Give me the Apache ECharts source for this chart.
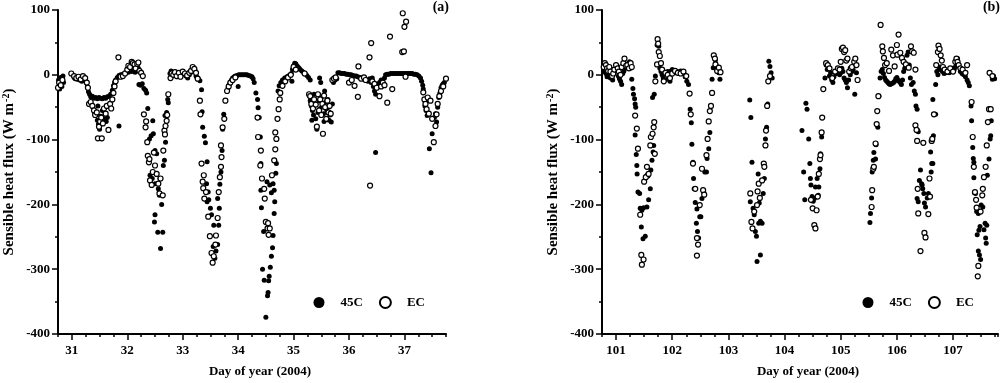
<!DOCTYPE html>
<html><head><meta charset="utf-8">
<script src="https://cdn.jsdelivr.net/npm/echarts@6/dist/echarts.min.js"></script>
<style>html,body{margin:0;padding:0;background:#fff}#c{width:1000px;height:383px}</style>
</head><body><div id="c"></div>
<script>
// ---- tick labels ----
const xTicksA = [31, 32, 33, 34, 35, 36, 37];
const xTicksB = [101, 102, 103, 104, 105, 106, 107];
const yTicks = [-400, -300, -200, -100, 0, 100];
const panelLabels = ['(a)', '(b)'];
const seriesNames = ['45C', 'EC'];

// ---- panel (a): [day, W m-2] ----
const a45C = [
[30.76,-8],[30.77,-15],[30.78,-22],[30.79,-10],[30.80,-4],[30.81,-12],[30.82,-18],[30.83,-6],[30.84,-2],[30.85,-12],
[31.04,-4],[31.06,-6],[31.08,-3],[31.10,-7],[31.12,-5],[31.14,-8],[31.16,-4],[31.18,-10],[31.20,-6],[31.22,-3],[31.24,-8],[31.26,-12],[31.28,-18],[31.30,-26],[31.32,-30],
[31.34,-34],[31.37,-33],[31.40,-36],[31.43,-35],[31.46,-37],[31.49,-35],[31.52,-36],[31.55,-37],[31.58,-35],[31.61,-36],[31.64,-34],[31.67,-33],[31.70,-30],
[31.41,-58],[31.44,-62],[31.46,-70],[31.48,-76],[31.50,-84],[31.52,-64],[31.55,-55],[31.57,-68],[31.60,-60],[31.62,-72],[31.64,-66],[31.47,-48],[31.85,-79],
[31.73,-24],[31.75,-17],[31.77,-12],[31.79,-8],[31.82,-4],[31.85,-1],[31.88,0],[31.92,1],
[31.96,3],[31.99,5],[32.02,4],[32.05,7],[32.08,5],[32.11,9],[32.14,4],[32.17,12],[32.20,10],[32.21,-15],[32.24,-16],[32.27,-14],[32.30,-21],[32.33,-24],[32.35,-28],
[32.37,-52],[32.40,-99],[32.43,-94],[32.46,-71],[32.47,-91],[32.50,-117],[32.53,-122],[32.41,-155],[32.45,-160],[32.50,-168],[32.56,-176],[32.58,-186],[32.50,-216],[32.49,-227],[32.55,-243],[32.64,-243],[32.60,-268],[32.62,-200],[32.59,-160],[32.65,-140],[32.67,-132],[32.69,-104],[32.68,-63],[32.71,-58],[32.73,-38],[32.74,-43],
[32.77,2],[32.79,6],[32.81,-2],[32.83,3],[32.85,0],[32.87,4],[32.90,-3],[32.92,1],[32.95,3],[32.98,0],[33.00,5],[33.03,2],[33.06,-2],[33.09,-5],[33.12,0],[33.15,4],[33.18,8],[33.20,11],[33.22,7],[33.24,-2],[33.26,-4],[33.28,-6],[33.31,-9],
[33.34,-23],[33.35,-57],[33.36,-81],[33.39,-95],[33.41,-105],[33.44,-134],[33.43,-168],[33.46,-181],[33.47,-193],[33.44,-196],[33.50,-206],[33.52,-216],[33.56,-232],[33.55,-265],[33.58,-283],[33.60,-272],[33.63,-262],[33.65,-232],[33.63,-191],[33.66,-206],[33.67,-169],[33.69,-150],[33.71,-117],[33.72,-84],[33.74,-61],
[33.82,-20],[33.85,-13],[33.88,-8],[33.90,-5],[33.93,-3],[33.95,-2],[33.98,-1],[34.00,-18],[34.01,0],[34.04,0],[34.07,0],[34.10,0],[34.13,0],[34.16,0],[34.19,-1],[34.22,-2],[34.25,-3],[34.27,-6],[34.29,-12],
[34.32,-28],[34.35,-38],[34.36,-51],[34.38,-66],[34.40,-96],[34.41,-137],[34.41,-178],[34.42,-205],[34.46,-242],[34.44,-300],[34.47,-317],[34.50,-374],[34.53,-341],[34.54,-336],[34.55,-318],[34.56,-311],[34.58,-297],[34.60,-280],[34.62,-267],[34.63,-248],[34.65,-214],[34.66,-196],[34.65,-178],[34.68,-152],[34.69,-137],[34.66,-132],[34.63,-168],[34.60,-182],[34.57,-170],[34.52,-165],
[34.72,-25],[34.74,-17],[34.77,-12],[34.80,-8],[34.84,-5],[34.88,-3],[34.92,-1],[34.97,-10],[34.96,2],
[34.98,8],[35.00,14],[35.02,18],[35.04,17],[35.06,14],[35.08,12],[35.10,10],[35.12,8],[35.15,6],[35.18,4],[35.21,2],[35.24,-1],[35.27,-4],[35.30,-8],
[35.28,-32],[35.30,-40],[35.32,-48],[35.34,-55],[35.36,-62],[35.38,-45],[35.40,-68],[35.42,-84],[35.44,-58],[35.46,-40],[35.48,-52],[35.50,-35],[35.52,-47],[35.54,-60],[35.56,-25],[35.58,-42],[35.60,-55],[35.62,-38],[35.64,-70],[35.66,-62],[35.68,-73],[35.70,-45],[35.33,-70],[35.55,-72],[35.37,-30],[35.47,-5],[35.49,-12],
[35.72,-12],[35.75,-8],[35.78,-6],
[35.80,3],[35.83,3],[35.86,2],[35.89,2],[35.92,2],[35.95,1],[35.98,1],[36.01,0],[36.04,0],[36.07,-1],[36.10,-2],[36.13,-2],[36.16,-3],[36.19,-4],[36.22,-5],[36.25,-6],[36.28,-4],[36.31,-8],[36.34,-10],[36.37,-6],[36.40,-12],[36.42,-5],[36.44,-18],[36.46,-25],[36.48,-30],[36.50,-20],[36.52,-15],[36.55,-12],[36.58,-8],[36.61,-15],[36.64,-5],[36.48,-120],
[36.66,0],[36.69,1],[36.72,1],[36.75,2],[36.78,2],[36.81,2],[36.84,2],[36.87,2],[36.90,2],[36.93,2],[36.96,2],[36.99,2],[37.02,2],[37.05,2],[37.08,2],[37.11,2],[37.14,2],[37.17,1],[37.20,1],[37.23,0],[37.26,-2],[37.29,-5],[37.31,-10],[37.33,-16],
[37.34,-22],[37.37,-48],[37.39,-55],[37.41,-63],[37.43,-40],[37.45,-114],[37.48,-151],[37.50,-91],[37.54,-66],[37.56,-60],[37.58,-73],[37.60,-50],[37.62,-35],[37.64,-28],[37.66,-20],[37.68,-16],[37.70,-14],[37.72,-12]
];
const aEC = [
[30.75,-20],[30.77,-12],[30.80,-16],[30.83,-8],
[30.99,2],[31.04,-2],[31.08,-5],[31.12,-3],[31.16,-7],[31.20,-2],[31.24,-5],[31.27,-12],[31.29,-20],
[31.31,-45],[31.34,-42],[31.37,-48],[31.40,-55],[31.42,-62],[31.45,-58],[31.47,-98],[31.54,-98],[31.49,-80],[31.51,-72],[31.53,-66],[31.56,-75],[31.58,-52],[31.61,-60],[31.63,-48],[31.66,-85],[31.69,-45],[31.71,-52],[31.73,-38],[31.75,-28],[31.77,-18],[31.79,-10],[31.84,27],[31.88,-3],[31.92,-2],
[31.96,2],[32.00,8],[32.02,14],[32.05,12],[32.08,20],[32.10,18],[32.13,16],[32.15,10],[32.18,17],[32.20,19],[32.22,6],[32.25,3],[32.28,-2],
[32.30,-61],[32.33,-81],[32.34,-72],[32.36,-104],[32.37,-125],[32.39,-135],[32.40,-130],[32.41,-163],[32.44,-170],[32.46,-150],[32.48,-120],[32.50,-140],[32.53,-153],[32.56,-168],[32.58,-183],[32.60,-160],[32.64,-186],[32.65,-117],[32.67,-86],[32.68,-92],[32.69,-79],[32.71,-71],[32.74,-30],[32.72,-62],
[32.78,-5],[32.80,2],[32.83,0],[32.86,4],[32.89,-2],[32.93,3],[32.96,-3],[33.00,5],[33.04,2],[33.08,-1],[33.12,3],[33.15,6],[33.18,12],[33.21,9],[33.24,3],[33.27,-6],
[33.31,-40],[33.32,-61],[33.34,-137],[33.36,-165],[33.38,-155],[33.37,-175],[33.39,-191],[33.42,-181],[33.46,-219],[33.49,-249],[33.52,-275],[33.54,-290],[33.56,-280],[33.59,-262],[33.60,-248],[33.63,-221],[33.65,-181],[33.67,-158],[33.69,-142],[33.70,-127],[33.69,-109],[33.72,-81],[33.75,-68],[33.77,-40],[33.80,-25],[33.83,-18],[33.86,-12],[33.90,-8],[33.95,-4],
[34.35,-66],[34.36,-96],[34.41,-117],[34.40,-140],[34.43,-160],[34.47,-176],[34.48,-191],[34.50,-227],[34.53,-237],[34.55,-247],[34.57,-237],[34.54,-229],[34.61,-155],[34.65,-132],[34.67,-115],[34.69,-99],[34.67,-89],[34.71,-68],[34.73,-53],[34.75,-38],[34.76,-28],[34.80,-17],[34.85,-10],[34.90,-4],[34.95,0],
[35.00,12],[35.04,8],[35.20,2],
[35.28,-30],[35.30,-33],[35.32,-45],[35.35,-52],[35.37,-38],[35.40,-46],[35.42,-80],[35.44,-30],[35.46,-55],[35.48,-38],[35.50,-62],[35.52,-45],[35.53,-91],[35.55,-32],[35.57,-50],[35.59,-68],[35.61,-40],[35.63,-58],[35.65,-48],[35.67,-60],
[35.70,-8],[35.73,-6],[35.76,-4],
[36.00,-12],[36.05,-8],[36.10,-17],[36.16,-34],[36.17,13],[36.22,-6],[36.27,-4],[36.30,-8],[36.37,27],[36.40,49],[36.38,-171],[36.42,-10],[36.46,-14],[36.50,-20],[36.55,-33],[36.58,-18],[36.61,-12],[36.64,-16],[36.69,-43],[36.74,59],[36.78,-22],[36.96,35],[36.99,36],[36.97,95],[37.00,74],[37.03,82],[37.02,-3],
[37.34,-27],[37.36,-38],[37.38,-45],[37.40,-53],[37.42,-35],[37.44,-60],[37.47,-40],[37.50,-68],[37.53,-104],[37.56,-79],[37.58,-61],[37.60,-45],[37.63,-33],[37.66,-25],[37.70,-18],[37.75,-6]
];

// ---- panel (b): [day, W m-2] ----
const b45C = [
[100.78,5],[100.80,8],[100.82,2],[100.84,-3],[100.86,4],[100.88,0],[100.90,-5],[100.92,3],[100.94,-8],[100.96,2],[100.98,6],[101.00,10],[101.02,8],[101.04,-2],[101.06,-6],[101.08,-10],[101.10,-15],[101.12,2],[101.14,6],[101.16,10],[101.18,12],[101.20,15],[101.22,18],[101.24,20],[101.26,10],
[101.28,-7],[101.30,-21],[101.31,-30],[101.33,-37],[101.34,-45],[101.35,-50],[101.34,-93],[101.36,-123],[101.37,-140],[101.375,-153],[101.39,-181],[101.42,-183],[101.43,-206],[101.46,-209],[101.45,-235],[101.48,-253],[101.52,-249],[101.49,-205],[101.55,-204],[101.58,-193],[101.55,-155],[101.57,-156],[101.61,-176],[101.62,-147],[101.64,-132],[101.66,-119],[101.67,-109],[101.65,-35],[101.68,-30],[101.70,-2],[101.73,46],[101.76,44],
[101.78,10],[101.80,5],[101.82,0],[101.84,-5],[101.86,3],[101.88,-8],[101.90,2],[101.92,5],[101.94,-3],[101.96,-10],[101.98,6],[102.00,8],[102.03,5],[102.06,3],[102.09,5],[102.12,3],[102.15,6],[102.18,4],[102.21,2],[102.23,-3],[102.26,-10],
[102.29,-15],[102.32,-53],[102.34,-74],[102.35,-107],[102.37,-135],[102.38,-160],[102.39,-176],[102.41,-197],[102.44,-207],[102.43,-229],[102.45,-242],[102.47,-252],[102.49,-219],[102.51,-219],[102.53,-191],[102.56,-181],[102.58,-150],[102.61,-150],[102.62,-129],[102.65,-114],[102.67,-89],[102.69,-48],[102.71,-7],[102.73,11],[102.74,29],[102.77,23],[102.80,13],[102.83,3],[102.85,-7],
[103.38,-39],[103.40,-66],[103.42,-135],[103.39,-196],[103.44,-206],[103.46,-216],[103.48,-242],[103.50,-249],[103.51,-288],[103.54,-229],[103.53,-153],[103.55,-198],[103.57,-226],[103.60,-229],[103.57,-278],[103.62,-183],[103.64,-160],[103.66,-99],[103.68,-81],[103.70,-45],[103.72,21],[103.74,13],[103.76,3],[103.78,-5],
[104.31,-86],[104.34,-150],[104.36,-193],[104.38,-44],[104.40,-53],[104.43,-99],[104.45,-137],[104.46,-160],[104.47,-170],[104.49,-188],[104.51,-195],[104.53,-191],[104.55,-173],[104.58,-160],[104.60,-186],[104.61,-173],[104.63,-145],[104.64,-122],[104.66,-96],
[104.72,-5],[104.74,15],[104.76,8],[104.78,10],[104.80,-2],[104.82,3],[104.84,-8],[104.86,-12],[104.88,-3],[104.92,2],[104.95,5],[104.98,0],[105.00,3],[105.02,10],[105.04,5],[105.06,-5],[105.08,-8],[105.10,-12],[105.12,-20],[105.14,-8],[105.17,0],[105.20,5],[105.22,8],[105.25,-30],[105.28,3],
[105.52,-228],[105.53,-214],[105.55,-190],[105.56,-150],[105.58,-132],[105.59,-120],[105.62,-107],[105.63,-108],[105.66,-81],[105.68,-33],[105.62,-130],
[105.70,-5],[105.72,5],[105.74,8],[105.76,2],[105.78,-4],[105.80,-8],[105.82,-10],[105.84,-12],[105.86,-14],[105.88,-15],[105.90,-14],[105.92,-13],[105.94,-12],[105.96,-10],[105.98,-6],[106.00,-4],[106.02,-8],[106.04,-10],[106.06,-12],[106.08,-15],[106.10,-8],[106.12,5],[106.14,10],[106.16,12],[106.18,30],[106.20,35],[106.22,15],[106.24,-5],[106.26,-15],
[106.29,-12],[106.31,-25],[106.33,-30],[106.34,-48],[106.36,-53],[106.37,-86],[106.38,-88],[106.36,-191],[106.38,-196],[106.40,-163],[106.42,-147],[106.44,-168],[106.45,-170],[106.46,-176],[106.48,-183],[106.49,-198],[106.51,-204],[106.54,-190],[106.56,-183],[106.60,-119],[106.62,-137],[106.64,-137],[106.61,-150],[106.65,-94],[106.64,-38],[106.66,-61],[106.69,-61],[106.69,-15],
[106.71,5],[106.73,0],[106.75,8],[106.77,12],[106.79,10],[106.81,5],[106.84,2],[106.87,3],[106.90,5],[106.93,3],[106.96,8],[106.99,10],[107.02,8],[107.04,12],[107.06,15],[107.08,25],[107.10,15],[107.13,5],[107.16,2],[107.19,0],[107.22,-3],[107.25,-8],[107.27,-12],
[107.29,-17],[107.32,-48],[107.33,-71],[107.35,-112],[107.36,-129],[107.37,-135],[107.37,-159],[107.38,-182],[107.40,-183],[107.42,-211],[107.45,-214],[107.43,-247],[107.46,-240],[107.48,-234],[107.45,-272],[107.47,-278],[107.49,-285],[107.50,-201],[107.53,-204],[107.55,-239],[107.57,-229],[107.58,-252],[107.59,-260],[107.60,-232],[107.61,-155],[107.64,-130],[107.66,-99],[107.67,-94],[107.68,-71],[107.70,-7],[107.72,-2],[107.74,-6]
];
const bEC = [
[100.78,12],[100.80,18],[100.82,15],[100.84,10],[100.86,6],[100.88,12],[100.90,5],[100.93,-2],[100.95,2],[100.97,8],[101.00,15],[101.03,10],[101.05,5],[101.08,0],[101.10,12],[101.13,18],[101.15,25],[101.18,14],[101.20,15],[101.23,10],[101.26,18],[101.28,12],
[101.34,-63],[101.37,-83],[101.39,-114],[101.43,-216],[101.45,-278],[101.46,-293],[101.49,-285],[101.50,-165],[101.53,-158],[101.55,-142],[101.58,-153],[101.61,-109],[101.62,-96],[101.65,-91],[101.67,-81],[101.68,-73],[101.69,-122],[101.70,-10],[101.73,16],[101.74,55],[101.75,48],[101.76,35],[101.78,29],[101.80,18],
[101.82,8],[101.85,-10],[101.88,3],[101.92,0],[101.96,-5],[102.00,2],[102.05,6],[102.10,3],[102.15,2],[102.20,5],[102.25,-2],
[102.31,-29],[102.33,-61],[102.37,-137],[102.41,-176],[102.44,-252],[102.46,-262],[102.44,-279],[102.49,-201],[102.53,-145],[102.55,-178],[102.57,-185],[102.61,-124],[102.63,-99],[102.65,-72],[102.67,-56],[102.69,-48],[102.71,-28],[102.74,30],[102.76,25],[102.77,16],[102.80,6],[102.83,11],[102.86,4],
[103.39,-183],[103.41,-227],[103.43,-237],[103.46,-211],[103.51,-201],[103.52,-180],[103.54,-168],[103.56,-190],[103.60,-163],[103.63,-137],[103.64,-142],[103.66,-109],[103.67,-86],[103.69,-48],[103.71,-10],[103.74,-2],
[104.47,-193],[104.50,-206],[104.53,-232],[104.55,-237],[104.57,-209],[104.59,-188],[104.61,-153],[104.63,-130],[104.64,-124],[104.66,-89],[104.67,-66],[104.69,-22],
[104.74,18],[104.77,15],[104.80,10],[104.85,-5],[104.90,5],[104.95,10],[104.98,8],[105.00,20],[105.02,40],[105.04,42],[105.06,35],[105.08,38],[105.10,22],[105.12,25],[105.15,5],[105.18,10],[105.20,12],[105.24,20],[105.26,25],[105.28,15],[105.30,-8],
[105.55,-204],[105.56,-178],[105.58,-145],[105.59,-142],[105.62,-106],[105.64,-76],[105.65,-56],[105.67,-33],
[105.71,77],[105.74,44],[105.75,36],[105.77,26],[105.79,15],[105.82,18],[105.86,6],[105.90,39],[105.93,30],[105.96,13],[106.00,46],[106.03,62],[106.01,31],[106.06,34],[106.09,26],[106.12,20],[106.16,16],[106.21,11],[106.25,44],[106.27,36],[106.30,34],[106.33,8],
[106.33,-78],[106.35,-85],[106.36,-102],[106.37,-176],[106.38,-214],[106.42,-272],[106.47,-105],[106.49,-244],[106.51,-251],[106.56,-215],[106.58,-160],[106.59,-188],[106.62,-102],[106.63,-99],[106.66,-61],
[106.70,15],[106.73,35],[106.74,45],[106.76,40],[106.78,30],[106.80,22],[106.82,12],[106.85,8],[106.90,5],[106.95,10],[107.00,5],[107.04,20],[107.06,25],[107.08,20],[107.10,15],[107.13,10],[107.17,8],[107.22,3],[107.25,15],
[107.33,-42],[107.35,-96],[107.37,-142],[107.39,-181],[107.41,-193],[107.42,-205],[107.45,-295],[107.44,-311],[107.49,-211],[107.52,-186],[107.53,-176],[107.55,-158],[107.58,-142],[107.60,-109],[107.62,-73],[107.64,-53],[107.67,-53],[107.65,3],[107.70,-2]
];

const FONT = '"Liberation Serif", "DejaVu Serif", serif';
const txt = { fontFamily: FONT, fontWeight: 'bold', color: '#000' };

function mainX(gridIndex, min, max, ticks) {
  return {
    type: 'value', gridIndex, min, max, position: 'bottom',
    name: 'Day of year (2004)', nameLocation: 'middle', nameGap: 31,
    nameTextStyle: Object.assign({ fontSize: 13, padding: [0, 0, 0, 16] }, txt),
    axisLine: { show: true, onZero: false, lineStyle: { color: '#000', width: 2 } },
    axisTick: { show: true, customValues: ticks, length: 6, lineStyle: { color: '#000', width: 1.5 } },
    axisLabel: Object.assign({ customValues: ticks, fontSize: 13, margin: 10 }, txt),
    splitLine: { show: false }
  };
}
function minorX(gridIndex, min, max) {
  return {
    type: 'value', gridIndex, min, max, interval: 0.25, position: 'bottom',
    axisLine: { show: false, onZero: false },
    axisTick: { show: true, length: 3, lineStyle: { color: '#000', width: 1.5 } },
    axisLabel: { show: false }, splitLine: { show: false }
  };
}
function mainY(gridIndex) {
  return {
    type: 'value', gridIndex, min: -400, max: 100, interval: 100,
    name: '{t|Sensible heat flux (W m}{s|-2}{t|)}', nameLocation: 'middle', nameGap: 40, nameRotate: 90,
    nameTextStyle: {
      rich: {
        t: Object.assign({ fontSize: 15 }, txt),
        s: Object.assign({ fontSize: 10, verticalAlign: 'top', padding: [0, 0, 7, 1] }, txt)
      }
    },
    axisLine: { show: true, onZero: false, lineStyle: { color: '#000', width: 2 } },
    axisTick: { show: true, customValues: yTicks, length: 6, lineStyle: { color: '#000', width: 1.5 } },
    minorTick: { show: true, splitNumber: 2, length: 3, lineStyle: { color: '#000', width: 1.5 } },
    axisLabel: Object.assign({ customValues: yTicks, fontSize: 13, margin: 8 }, txt),
    splitLine: { show: false }, minorSplitLine: { show: false }
  };
}

const filledStyle = { color: '#000', opacity: 1 };
const openStyle = { color: '#fff', borderColor: '#000', borderWidth: 1.2, opacity: 1 };
const legendText = Object.assign({ fontSize: 13, padding: [0, 0, 0, 11] }, txt);

const chart = echarts.init(document.getElementById('c'), null, { renderer: 'canvas' });
chart.setOption({
  animation: false,
  backgroundColor: '#fff',
  grid: [
    { left: 53, top: 10, width: 393, height: 327 },
    { left: 602, top: 10, width: 396, height: 327 }
  ],
  xAxis: [
    mainX(0, 30.75, 37.75, xTicksA), minorX(0, 30.75, 37.75),
    mainX(1, 100.75, 107.8, xTicksB), minorX(1, 100.75, 107.8)
  ],
  yAxis: [mainY(0), mainY(1)],
  legend: [
    { left: 308.5, top: 291, itemWidth: 11, itemHeight: 11, itemGap: 16, icon: 'circle',
      data: seriesNames, textStyle: legendText, selectedMode: false },
    { left: 857.5, top: 291, itemWidth: 11, itemHeight: 11, itemGap: 16, icon: 'circle',
      data: seriesNames, textStyle: legendText, selectedMode: false }
  ],
  graphic: [
    { type: 'text', right: 551, top: 0, style: { text: panelLabels[0], fontSize: 14, fontWeight: 'bold', fontFamily: FONT, fill: '#000' } },
    { type: 'text', right: 0, top: 0, style: { text: panelLabels[1], fontSize: 14, fontWeight: 'bold', fontFamily: FONT, fill: '#000' } }
  ],
  series: [
    { name: seriesNames[0], type: 'scatter', xAxisIndex: 0, yAxisIndex: 0, data: a45C, symbol: 'circle', symbolSize: 5, itemStyle: filledStyle },
    { name: seriesNames[1], type: 'scatter', xAxisIndex: 0, yAxisIndex: 0, data: aEC, symbol: 'circle', symbolSize: 5, itemStyle: openStyle },
    { name: seriesNames[0], type: 'scatter', xAxisIndex: 2, yAxisIndex: 1, data: b45C, symbol: 'circle', symbolSize: 5, itemStyle: filledStyle },
    { name: seriesNames[1], type: 'scatter', xAxisIndex: 2, yAxisIndex: 1, data: bEC, symbol: 'circle', symbolSize: 5, itemStyle: openStyle }
  ]
});
</script>
</body></html>
